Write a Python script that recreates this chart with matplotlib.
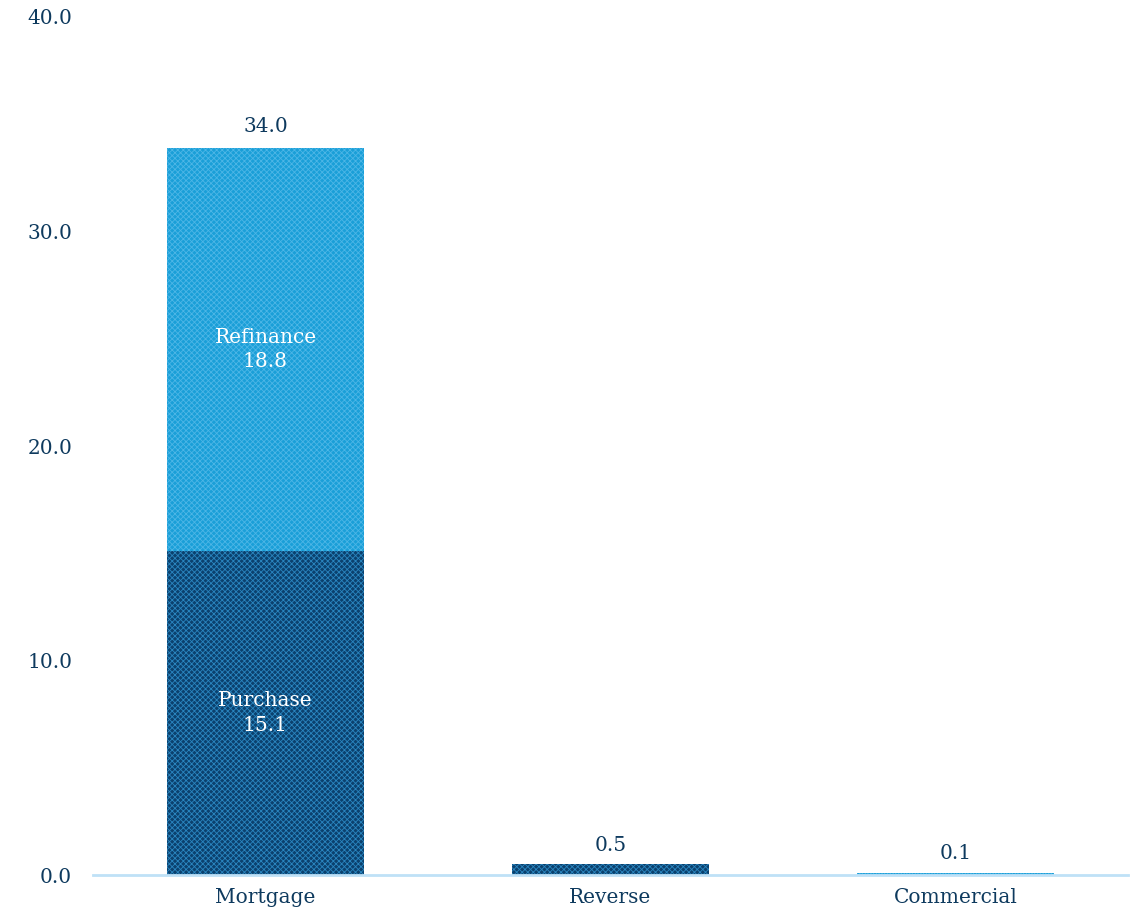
import matplotlib.pyplot as plt
from matplotlib.ticker import FormatStrFormatter

plt.rcParams['font.family'] = ['DejaVu Serif']
plt.rcParams['hatch.linewidth'] = 0.6

categories = ['Mortgage', 'Reverse', 'Commercial']
purchase = [15.1, 0.5, 0.0]
refinance = [18.8, 0.0, 0.1]
totals = [34.0, 0.5, 0.1]
segment_names = ['Purchase', 'Refinance']

navy = '#0E3A5E'
dark_fill = '#0B416E'
light_fill = '#1A9FD8'
dark_hatch = '#2A86C0'
light_hatch = '#4DB6E6'

fig = plt.figure(figsize=(11.34, 9.18), dpi=100)
ax = fig.add_axes([0.082, 0.0468, 0.9127, 0.9347])

x = range(len(categories))
b1 = ax.bar(x, purchase, width=0.57, color=dark_fill, edgecolor=dark_hatch,
            hatch='xxxxxx', linewidth=0)
b2 = ax.bar(x, refinance, width=0.57, bottom=purchase, color=light_fill,
            edgecolor=light_hatch, hatch='xxxxxx', linewidth=0)

fs = 14.5
# labels inside the mortgage bar
ax.text(0, purchase[0] / 2, f'{segment_names[0]}\n{purchase[0]:.1f}', ha='center',
        va='center', color='white', fontsize=fs, linespacing=1.35)
ax.text(0, purchase[0] + refinance[0] / 2, f'{segment_names[1]}\n{refinance[0]:.1f}',
        ha='center', va='center', color='white', fontsize=fs, linespacing=1.35)

for i, t in enumerate(totals):
    ax.text(i, t + 0.45, f'{t:.1f}', ha='center', va='bottom', color=navy, fontsize=fs)

ax.set_xlim(-0.5, 2.5)
ax.set_ylim(0, 40)
ax.set_yticks([0, 10, 20, 30, 40])
ax.yaxis.set_major_formatter(FormatStrFormatter('%.1f'))
ax.set_xticks(list(x))
ax.set_xticklabels(categories)
ax.tick_params(axis='both', length=0, labelsize=fs, labelcolor=navy)
ax.tick_params(axis='y', pad=15)
ax.tick_params(axis='x', pad=9)

for s in ['top', 'right', 'left']:
    ax.spines[s].set_visible(False)
ax.spines['bottom'].set_color('#BFE1F7')
ax.spines['bottom'].set_linewidth(2)

fig.savefig('out.png', dpi=100)
